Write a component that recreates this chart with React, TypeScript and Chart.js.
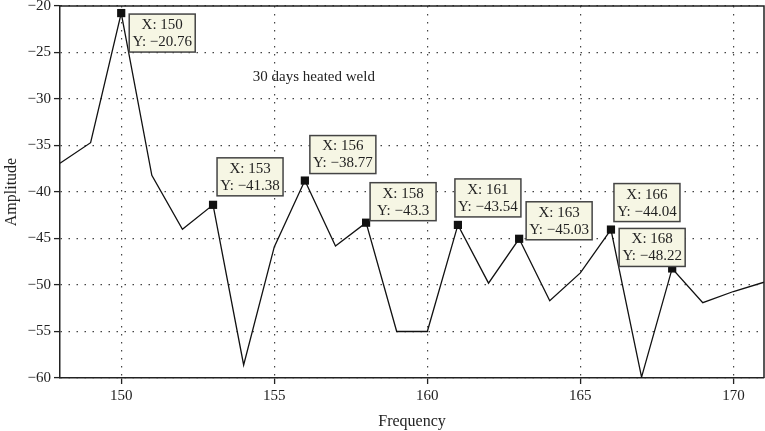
import React, { useEffect, useRef } from "react";
import { Chart, registerables } from "chart.js";

Chart.register(...registerables);

const frequencies = [148, 149, 150, 151, 152, 153, 154, 155, 156, 157, 158, 159, 160, 161, 162, 163, 164, 165, 166, 167, 168, 169, 170, 171];
const amplitudes = [-36.9, -34.7, -20.76, -38.2, -44.0, -41.38, -58.6, -45.9, -38.77, -45.8, -43.3, -55.0, -55.0, -43.54, -49.8, -45.03, -51.7, -48.7, -44.04, -59.9, -48.22, -51.9, -50.7, -49.7];
const markedFrequencies = [150, 153, 156, 158, 161, 163, 166, 168];
const xTicks = [150, 155, 160, 165, 170];
const yTicks = [-60, -55, -50, -45, -40, -35, -30, -25, -20];
const annotationText = "30 days heated weld";
const annotationAt = { x: 154.3, y: -27.6 };
const xTitle = "Frequency";
const yTitle = "Amplitude";

// layout of the data-tip boxes, relative to their point (pixels)
const tipOffsets: Record<number, [number, number]> = {
  150: [8, 1],
  153: [4, -47],
  156: [5, -45],
  158: [4, -40],
  161: [-3, -46],
  163: [7, -37],
  166: [3, -46],
  168: [-53, -40],
};

const FONT = "'Liberation Serif', 'DejaVu Serif', serif";
const minus = (v: number) => String(v).replace("-", "\u2212");

export default function App() {
  const ref = useRef<HTMLCanvasElement | null>(null);
  useEffect(() => {
    const canvas = ref.current!;
    const overlay = {
      id: "overlay",
      afterDatasetsDraw(chart: any) {
        const ctx = chart.ctx;
        const { left, right, top, bottom } = chart.chartArea;
        const xs = chart.scales.x;
        const ys = chart.scales.y;
        ctx.save();
        ctx.strokeStyle = "#222";
        ctx.lineWidth = 1.5;
        ctx.beginPath();
        ctx.moveTo(left, top);
        ctx.lineTo(right, top);
        ctx.lineTo(right, bottom);
        ctx.stroke();
        ctx.fillStyle = "#222";
        ctx.font = `15px ${FONT}`;
        ctx.textAlign = "left";
        ctx.textBaseline = "middle";
        ctx.fillText(annotationText, xs.getPixelForValue(annotationAt.x), ys.getPixelForValue(annotationAt.y));
        markedFrequencies.forEach((f) => {
          const i = frequencies.indexOf(f);
          const v = amplitudes[i];
          const px = xs.getPixelForValue(f);
          const py = ys.getPixelForValue(v);
          const [dx, dy] = tipOffsets[f] || [5, -40];
          const bx = px + dx;
          const by = py + dy;
          const w = 66;
          const h = 38;
          ctx.fillStyle = "#f6f6e4";
          ctx.fillRect(bx, by, w, h);
          ctx.strokeStyle = "#444";
          ctx.lineWidth = 1.5;
          ctx.strokeRect(bx, by, w, h);
          ctx.fillStyle = "#222";
          ctx.font = `15px ${FONT}`;
          ctx.textAlign = "center";
          ctx.textBaseline = "middle";
          ctx.fillText(`X: ${f}`, bx + w / 2, by + 11);
          ctx.fillText(`Y: ${minus(v)}`, bx + w / 2, by + 28);
        });
        ctx.restore();
      },
    };

    const chart = new Chart(canvas, {
      type: "line",
      data: {
        datasets: [
          {
            data: frequencies.map((f, i) => ({ x: f, y: amplitudes[i] })),
            borderColor: "#111",
            borderWidth: 1.3,
            tension: 0,
            fill: false,
            pointStyle: "rect",
            pointRadius: frequencies.map((f) => (markedFrequencies.includes(f) ? 5.8 : 0)),
            pointBackgroundColor: "#111",
            pointBorderColor: "#111",
            pointBorderWidth: 0,
          },
        ],
      },
      options: {
        responsive: false,
        animation: false,
        layout: { padding: { top: 3, right: 1, left: 0, bottom: 0 } },
        plugins: { legend: { display: false }, tooltip: { enabled: false } },
        scales: {
          x: {
            type: "linear",
            min: 148,
            max: 171,
            afterBuildTicks: (s: any) => {
              s.ticks = xTicks.map((v) => ({ value: v }));
            },
            afterFit: (s: any) => {
              s.height = 53;
            },
            ticks: {
              color: "#222",
              font: { family: FONT, size: 15 },
              padding: 3,
              maxRotation: 0,
              callback: (v: any) => minus(Number(v)),
            },
            grid: {
              color: "#444",
              lineWidth: 1.2,
              tickLength: 6,
              tickColor: "#222",
              tickWidth: 1.3,
              tickBorderDash: [],
            },
            border: { color: "#222", width: 1.5, dash: [1.5, 6.5] },
            title: { display: true, text: xTitle, color: "#222", font: { family: FONT, size: 16 }, padding: { top: 0, bottom: 0 } },
          },
          y: {
            type: "linear",
            min: -60,
            max: -20,
            afterBuildTicks: (s: any) => {
              s.ticks = yTicks.map((v) => ({ value: v }));
            },
            afterFit: (s: any) => {
              s.width = 60;
            },
            ticks: {
              color: "#222",
              font: { family: FONT, size: 15, lineHeight: 0.4 },
              padding: 3,
              callback: (v: any) => minus(Number(v)),
            },
            grid: {
              color: "#444",
              lineWidth: 1.2,
              tickLength: 6,
              tickColor: "#222",
              tickWidth: 1.3,
              tickBorderDash: [],
            },
            border: { color: "#222", width: 1.5, dash: [1.5, 6.5] },
            title: { display: true, text: yTitle, color: "#222", font: { family: FONT, size: 16 }, padding: { top: 2, bottom: 0 } },
          },
        },
      },
      plugins: [overlay],
    } as any);
    return () => chart.destroy();
  }, []);
  return (
    <div style={{ position: "absolute", left: 0, top: 0, width: 765, height: 431, background: "#fff" }}>
      <canvas ref={ref} width={765} height={431} style={{ width: 765, height: 431 }} />
    </div>
  );
}
